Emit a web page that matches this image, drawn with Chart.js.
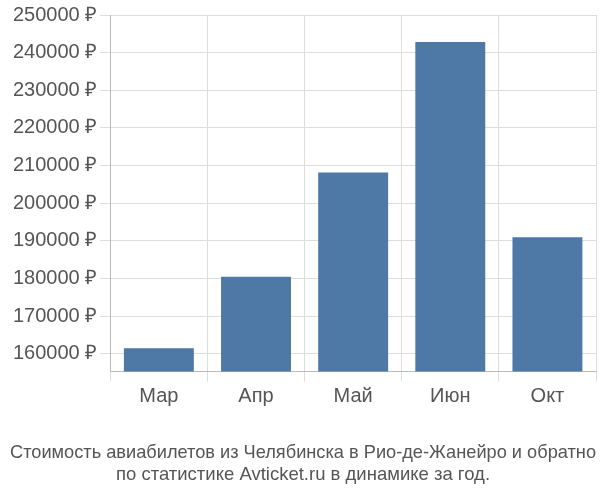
<!DOCTYPE html><html><head><meta charset="utf-8">
<script src="https://cdn.jsdelivr.net/npm/chart.js@4"></script>
<style>body{margin:0}#w{width:600px;height:500px}</style></head><body><div id="w"><canvas id="c"></canvas></div>
<script>
const categories=["Мар","Апр","Май","Июн","Окт"];
const prices=[161500,180500,208200,242800,191000];
const tickValues=[160000,170000,180000,190000,200000,210000,220000,230000,240000,250000];
new Chart(document.getElementById('c'),{type:'bar',
data:{labels:categories,datasets:[{data:prices,backgroundColor:'#4e79a7',barPercentage:0.72,categoryPercentage:1}]},
options:{responsive:true,maintainAspectRatio:false,animation:false,
layout:{padding:{top:4,right:4,left:10,bottom:14}},
plugins:{legend:{display:false},title:{display:true,position:'bottom',text:['Стоимость авиабилетов из Челябинска в Рио-де-Жанейро и обратно','по статистике Avticket.ru в динамике за год.'],color:'#555',font:{family:'Liberation Sans',size:18.5,weight:'normal'},padding:{top:30,bottom:0},lineHeight:1.3}},
scales:{x:{grid:{color:'#ddd',offset:true,tickLength:10},border:{color:'#bbb'},ticks:{color:'#555',font:{family:'Liberation Sans',size:20}}},
y:{min:155300,max:250000,afterBuildTicks:a=>{a.ticks=tickValues.map(v=>({value:v}));},grid:{color:'#ddd',tickLength:10},border:{color:'#bbb'},ticks:{color:'#555',font:{family:'Liberation Sans',size:20},callback:v=>v+' ₽'}}}}});
</script></body></html>
